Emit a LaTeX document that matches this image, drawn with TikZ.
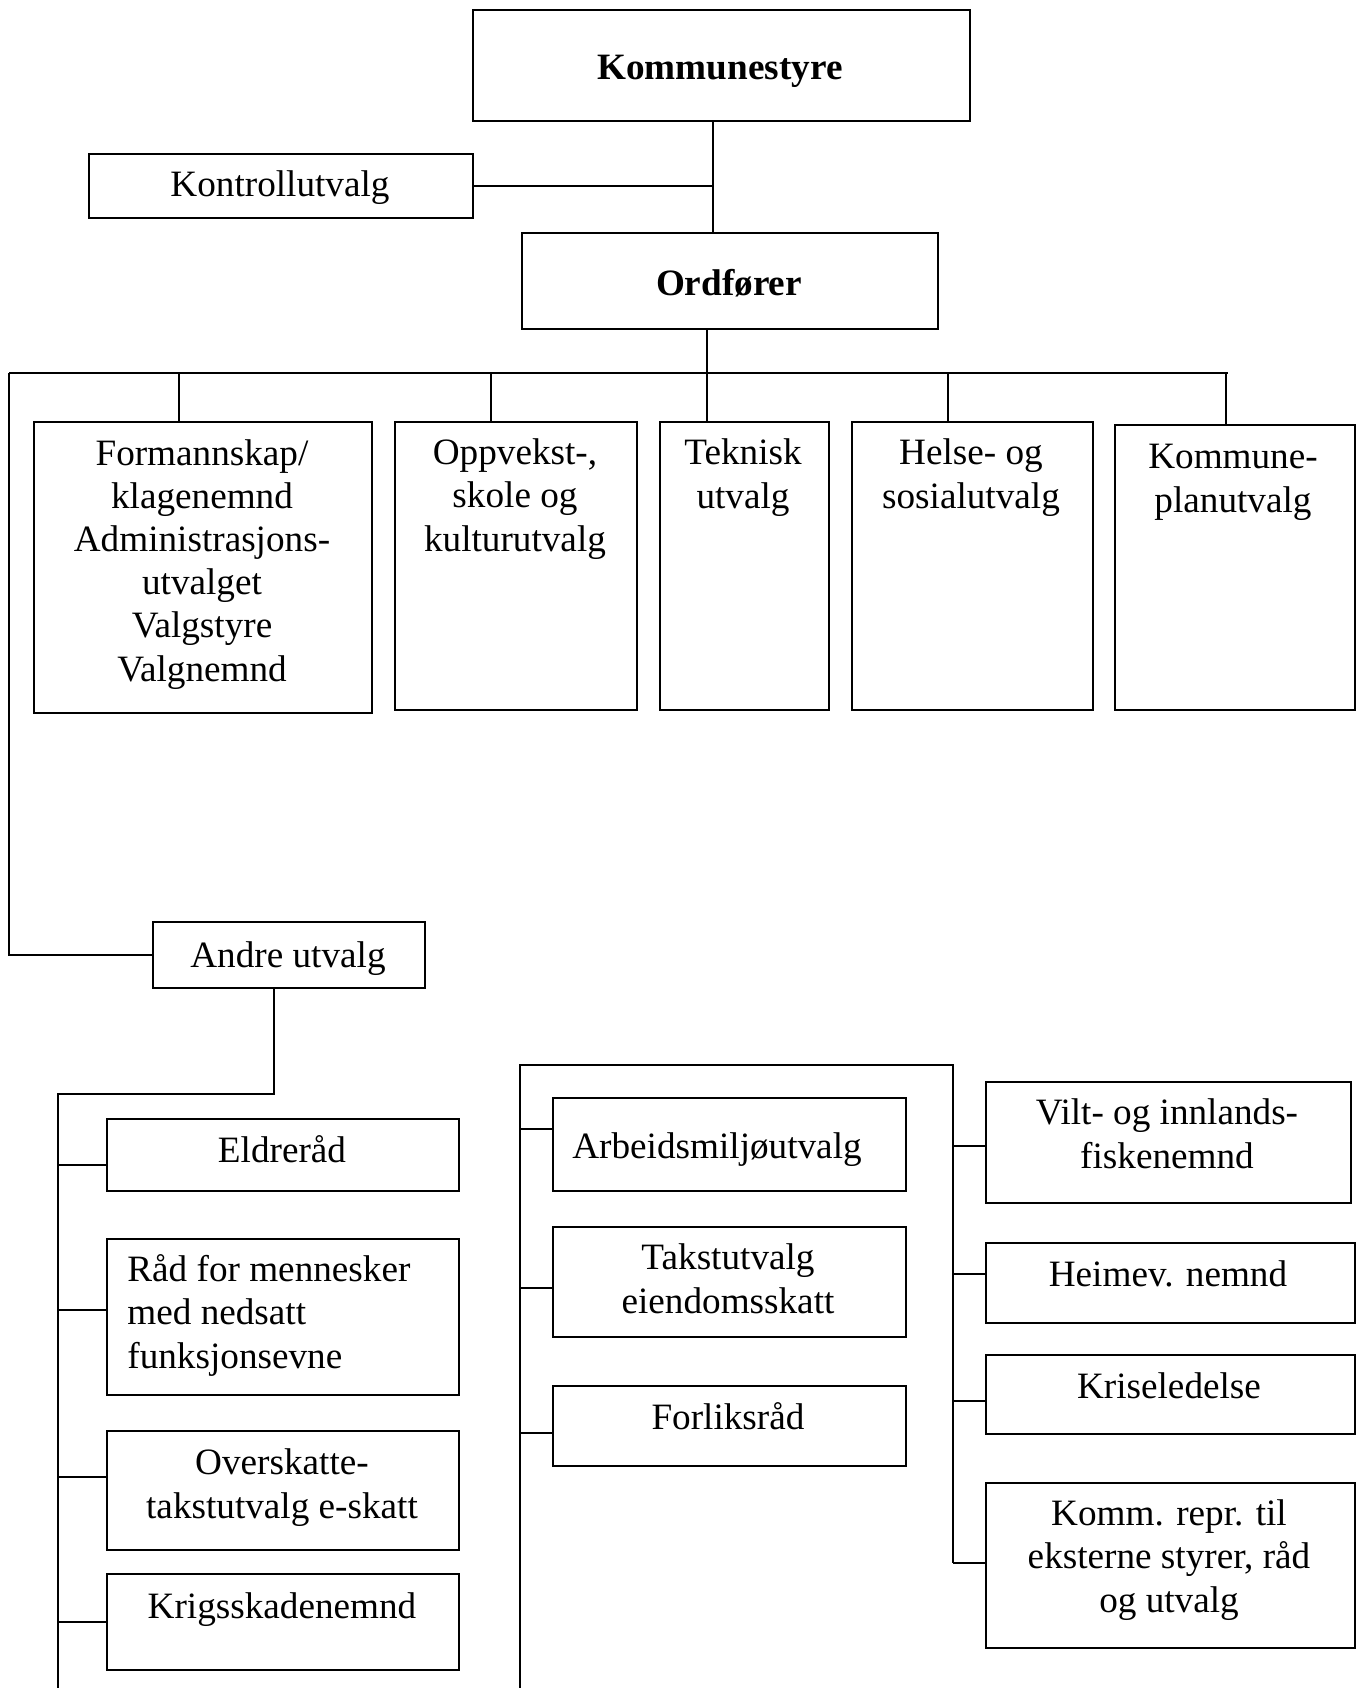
\documentclass[tikz,border=0pt]{standalone}
\usepackage{fontspec}
\setmainfont{Liberation Serif}
\usetikzlibrary{calc}

\newcommand{\skrift}{\fontsize{18.6}{21.6}\selectfont}

\tikzset{
  boks/.style={draw, line width=1pt, inner sep=0pt, anchor=north west},
  tekst/.style={align=center, inner sep=0pt, font=\skrift, anchor=base},
  fet/.style={tekst, font=\skrift\bfseries},
  linje/.style={line width=0.8pt},
  buss/.style={line width=1.2pt},
}

\begin{document}
\begin{tikzpicture}[x=0.5pt, y=-0.5pt]
  \useasboundingbox (0,0) rectangle (1357,1688);

  % toppen
  \node[boks, minimum width=248.5pt, minimum height=55.5pt] (kstyre) at (472,9) {};
  \node[fet] (t-kstyre) at (720,79) {Kommunestyre};
  \node[boks, minimum width=192pt, minimum height=32pt] (kontroll) at (88,153) {};
  \node[tekst] (t-kontroll) at (280,196) {Kontrollutvalg};
  \node[boks, minimum width=208pt, minimum height=48pt] (ordf) at (521,232) {};
  \node[fet] (t-ordf) at (729,295) {Ordfører};

  \coordinate (kryss) at (713,184);
  \draw[linje] (kstyre.south -| kryss) -- (ordf.north -| kryss);
  \draw[linje] (kontroll.east) -- (kontroll.east -| kryss);

  % utvalgene under ordfører (base = siste linje)
  \node[boks, minimum width=169pt, minimum height=145.5pt] (form) at (33,421) {};
  \node[tekst] (t-form) at (202,681) {Formannskap/\\klagenemnd\\Administrasjons-\\utvalget\\Valgstyre\\Valgnemnd};
  \node[boks, minimum width=121pt, minimum height=144pt] (oppv) at (394,421) {};
  \node[tekst] (t-oppv) at (515,551) {Oppvekst-,\\skole og\\kulturutvalg};
  \node[boks, minimum width=84.5pt, minimum height=144pt] (tekn) at (659,421) {};
  \node[tekst] (t-tekn) at (743,508) {Teknisk\\utvalg};
  \node[boks, minimum width=120.5pt, minimum height=144pt] (helse) at (851,421) {};
  \node[tekst] (t-helse) at (971,508) {Helse- og\\sosialutvalg};
  \node[boks, minimum width=120pt, minimum height=142.5pt] (kplan) at (1114,424) {};
  \node[tekst] (t-kplan) at (1233,512) {Kommune-\\planutvalg};

  \coordinate (buss) at (707,373);
  \coordinate (bv) at (9,373);
  \coordinate (bh) at (1228,373);
  \draw[linje] (ordf.south -| buss) -- (buss);
  \draw[buss] (bv) -- (bh);
  \foreach \x/\b in {179/form, 491/oppv, 707/tekn, 948/helse, 1226/kplan}
    \draw[linje] (\x,373) -- (\x,373 |- \b.north);

  % andre utvalg
  \node[boks, minimum width=136pt, minimum height=33pt] (andre) at (152,921) {};
  \node[tekst] (t-andre) at (288,967) {Andre utvalg};
  \draw[linje] (bv) -- (bv |- andre.west) -- (andre.west);

  \coordinate (ak) at (274,1094);
  \coordinate (vk) at (58,1094);
  \draw[linje] (andre.south -| ak) -- (ak) -- (vk) -- (58,1688);

  % venstre kolonne
  \node[boks, minimum width=176pt, minimum height=36pt] (eldre) at (106,1118) {};
  \node[tekst] (t-eldre) at (282,1162) {Eldreråd};
  \node[boks, minimum width=176pt, minimum height=78pt] (raad) at (106,1238) {};
  \node[tekst, align=left, anchor=base west] (t-raad) at (127,1368) {Råd for mennesker\\med nedsatt\\funksjonsevne};
  \node[boks, minimum width=176pt, minimum height=59.5pt] (oversk) at (106,1430) {};
  \node[tekst] (t-oversk) at (282,1518) {Overskatte-\\takstutvalg e-skatt};
  \node[boks, minimum width=176pt, minimum height=48pt] (krig) at (106,1573) {};
  \node[tekst] (t-krig) at (282,1618) {Krigsskadenemnd};
  \foreach \b/\y in {eldre/1165, raad/1310, oversk/1477, krig/1622}
    \draw[linje] (58,\y) -- (\b.west |- 0,\y);

  % midtre kolonne
  \coordinate (mk) at (520,1065);
  \coordinate (hk) at (953,1065);
  \draw[linje] (520,1688) -- (mk) -- (hk) -- (953,1563);
  \node[boks, minimum width=176.5pt, minimum height=46.5pt] (arb) at (552,1097) {};
  \node[tekst] (t-arb) at (717,1158) {Arbeidsmiljøutvalg};
  \node[boks, minimum width=176.5pt, minimum height=55pt] (takst) at (552,1226) {};
  \node[tekst] (t-takst) at (728,1313) {Takstutvalg\\eiendomsskatt};
  \node[boks, minimum width=176.5pt, minimum height=40pt] (forlik) at (552,1385) {};
  \node[tekst] (t-forlik) at (728,1429) {Forliksråd};
  \foreach \b/\y in {arb/1129, takst/1288, forlik/1433}
    \draw[linje] (520,\y) -- (\b.west |- 0,\y);

  % høyre kolonne
  \node[boks, minimum width=182.5pt, minimum height=60.5pt] (vilt) at (985,1081) {};
  \node[tekst] (t-vilt) at (1167,1168) {Vilt- og innlands-\\fiskenemnd};
  \node[boks, minimum width=184.5pt, minimum height=40pt] (heimev) at (985,1242) {};
  \node[tekst] (t-heimev) at (1168,1286) {Heimev. nemnd};
  \node[boks, minimum width=184.5pt, minimum height=39.5pt] (krise) at (985,1354) {};
  \node[tekst] (t-krise) at (1169,1398) {Kriseledelse};
  \node[boks, minimum width=184.5pt, minimum height=82.5pt] (komm) at (985,1482) {};
  \node[tekst] (t-komm) at (1169,1612) {Komm. repr. til\\eksterne styrer, råd\\og utvalg};
  \foreach \b/\y in {vilt/1146, heimev/1274, krise/1401, komm/1563}
    \draw[linje] (953,\y) -- (\b.west |- 0,\y);
\end{tikzpicture}
\end{document}
